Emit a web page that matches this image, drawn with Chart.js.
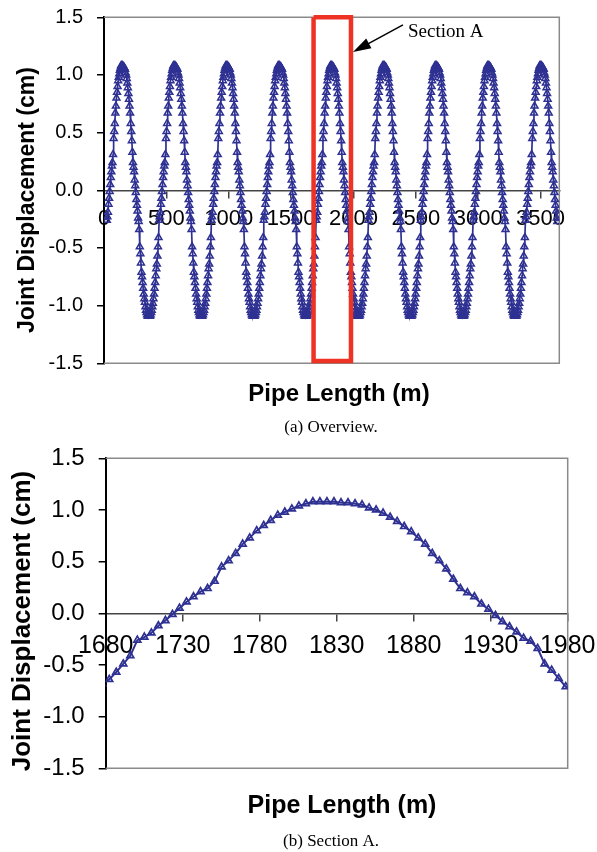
<!DOCTYPE html>
<html>
<head>
<meta charset="utf-8">
<script src="https://cdn.jsdelivr.net/npm/chart.js@4.4.1/dist/chart.umd.min.js"></script>
<style>
html,body{margin:0;padding:0;background:#fff;}
#wrap{position:relative;width:597px;height:852px;overflow:hidden;background:#fff;}
canvas{position:absolute;left:0;}
#overview{top:0;}
#section{top:440px;}
</style>
</head>
<body>
<div id="wrap">
  <canvas id="overview" width="597" height="440"></canvas>
  <canvas id="section" width="597" height="412"></canvas>
</div>
<script>
// ===== Data =====
const JOINT_START = 22.46;   // position of first joint (m)
const JOINT_LEN = 4.56;      // joint spacing (m)

// joint displacement (cm), one row per wave cycle
const jointDisp = [
  -0.26,-0.23,-0.19,-0.12,-0.07,-0.01,0.05,0.11,0.16,0.21,0.24,0.31,0.45,
  0.51,0.58,0.67,0.73,0.80,0.85,0.90,0.95,0.98,1.01,1.04,1.06,1.08,1.08,1.08,1.08,1.07,
  1.07,1.06,1.05,1.02,1.00,0.97,0.93,0.89,0.84,0.79,0.73,0.67,0.58,0.51,0.43,0.33,
  0.24,0.20,0.16,0.09,0.04,-0.02,-0.08,-0.13,-0.18,-0.24,-0.27,-0.34,-0.49,-0.55,-0.63,-0.71,
  -0.75,-0.80,-0.85,-0.90,-0.94,-0.97,-1.01,-1.04,-1.06,-1.08,-1.09,-1.09,-1.09,-1.09,-1.09,-1.08,-1.06,-1.04,-1.01,-0.98,-0.94,-0.90,-0.85,-0.80,-0.74,-0.68,
  // cycle 2
  -0.64,-0.57,-0.49,-0.41,-0.26,-0.23,-0.19,-0.12,-0.07,-0.01,0.05,0.11,0.16,0.21,0.24,0.31,0.45,
  0.51,0.58,0.67,0.73,0.80,0.85,0.90,0.95,0.98,1.01,1.04,1.06,1.08,1.08,1.08,1.08,1.07,
  1.07,1.06,1.05,1.02,1.00,0.97,0.93,0.89,0.84,0.79,0.73,0.67,0.58,0.51,0.43,0.33,
  0.24,0.20,0.16,0.09,0.04,-0.02,-0.08,-0.13,-0.18,-0.24,-0.27,-0.34,-0.49,-0.55,-0.63,-0.71,
  -0.75,-0.80,-0.85,-0.90,-0.94,-0.97,-1.01,-1.04,-1.06,-1.08,-1.09,-1.09,-1.09,-1.09,-1.09,-1.08,-1.06,-1.04,-1.01,-0.98,-0.94,-0.90,-0.85,-0.80,-0.74,-0.68,
  // cycle 3
  -0.64,-0.57,-0.49,-0.41,-0.26,-0.23,-0.19,-0.12,-0.07,-0.01,0.05,0.11,0.16,0.21,0.24,0.31,0.45,
  0.51,0.58,0.67,0.73,0.80,0.85,0.90,0.95,0.98,1.01,1.04,1.06,1.08,1.08,1.08,1.08,1.07,
  1.07,1.06,1.05,1.02,1.00,0.97,0.93,0.89,0.84,0.79,0.73,0.67,0.58,0.51,0.43,0.33,
  0.24,0.20,0.16,0.09,0.04,-0.02,-0.08,-0.13,-0.18,-0.24,-0.27,-0.34,-0.49,-0.55,-0.63,-0.71,
  -0.75,-0.80,-0.85,-0.90,-0.94,-0.97,-1.01,-1.04,-1.06,-1.08,-1.09,-1.09,-1.09,-1.09,-1.09,-1.08,-1.06,-1.04,-1.01,-0.98,-0.94,-0.90,-0.85,-0.80,-0.74,-0.68,
  // cycle 4
  -0.64,-0.57,-0.49,-0.41,-0.26,-0.23,-0.19,-0.12,-0.07,-0.01,0.05,0.11,0.16,0.21,0.24,0.31,0.45,
  0.51,0.58,0.67,0.73,0.80,0.85,0.90,0.95,0.98,1.01,1.04,1.06,1.08,1.08,1.08,1.08,1.07,
  1.07,1.06,1.05,1.02,1.00,0.97,0.93,0.89,0.84,0.79,0.73,0.67,0.58,0.51,0.43,0.33,
  0.24,0.20,0.16,0.09,0.04,-0.02,-0.08,-0.13,-0.18,-0.24,-0.27,-0.34,-0.49,-0.55,-0.63,-0.71,
  -0.75,-0.80,-0.85,-0.90,-0.94,-0.97,-1.01,-1.04,-1.06,-1.08,-1.09,-1.09,-1.09,-1.09,-1.09,-1.08,-1.06,-1.04,-1.01,-0.98,-0.94,-0.90,-0.85,-0.80,-0.74,-0.68,
  // cycle 5 (Section A: 1682 m .. 1979 m)
  -0.64,-0.57,-0.49,-0.41,-0.26,-0.23,-0.19,-0.12,-0.07,-0.01,0.05,0.11,0.16,0.21,0.24,0.31,0.45,
  0.51,0.58,0.67,0.73,0.80,0.85,0.90,0.95,0.98,1.01,1.04,1.06,1.08,1.08,1.08,1.08,1.07,
  1.07,1.06,1.05,1.02,1.00,0.97,0.93,0.89,0.84,0.79,0.73,0.67,0.58,0.51,0.43,0.33,
  0.24,0.20,0.16,0.09,0.04,-0.02,-0.08,-0.13,-0.18,-0.24,-0.27,-0.34,-0.49,-0.55,-0.63,-0.71,
  -0.75,-0.80,-0.85,-0.90,-0.94,-0.97,-1.01,-1.04,-1.06,-1.08,-1.09,-1.09,-1.09,-1.09,-1.09,-1.08,-1.06,-1.04,-1.01,-0.98,-0.94,-0.90,-0.85,-0.80,-0.74,-0.68,
  // cycle 6
  -0.64,-0.57,-0.49,-0.41,-0.26,-0.23,-0.19,-0.12,-0.07,-0.01,0.05,0.11,0.16,0.21,0.24,0.31,0.45,
  0.51,0.58,0.67,0.73,0.80,0.85,0.90,0.95,0.98,1.01,1.04,1.06,1.08,1.08,1.08,1.08,1.07,
  1.07,1.06,1.05,1.02,1.00,0.97,0.93,0.89,0.84,0.79,0.73,0.67,0.58,0.51,0.43,0.33,
  0.24,0.20,0.16,0.09,0.04,-0.02,-0.08,-0.13,-0.18,-0.24,-0.27,-0.34,-0.49,-0.55,-0.63,-0.71,
  -0.75,-0.80,-0.85,-0.90,-0.94,-0.97,-1.01,-1.04,-1.06,-1.08,-1.09,-1.09,-1.09,-1.09,-1.09,-1.08,-1.06,-1.04,-1.01,-0.98,-0.94,-0.90,-0.85,-0.80,-0.74,-0.68,
  // cycle 7
  -0.64,-0.57,-0.49,-0.41,-0.26,-0.23,-0.19,-0.12,-0.07,-0.01,0.05,0.11,0.16,0.21,0.24,0.31,0.45,
  0.51,0.58,0.67,0.73,0.80,0.85,0.90,0.95,0.98,1.01,1.04,1.06,1.08,1.08,1.08,1.08,1.07,
  1.07,1.06,1.05,1.02,1.00,0.97,0.93,0.89,0.84,0.79,0.73,0.67,0.58,0.51,0.43,0.33,
  0.24,0.20,0.16,0.09,0.04,-0.02,-0.08,-0.13,-0.18,-0.24,-0.27,-0.34,-0.49,-0.55,-0.63,-0.71,
  -0.75,-0.80,-0.85,-0.90,-0.94,-0.97,-1.01,-1.04,-1.06,-1.08,-1.09,-1.09,-1.09,-1.09,-1.09,-1.08,-1.06,-1.04,-1.01,-0.98,-0.94,-0.90,-0.85,-0.80,-0.74,-0.68,
  // cycle 8
  -0.64,-0.57,-0.49,-0.41,-0.26,-0.23,-0.19,-0.12,-0.07,-0.01,0.05,0.11,0.16,0.21,0.24,0.31,0.45,
  0.51,0.58,0.67,0.73,0.80,0.85,0.90,0.95,0.98,1.01,1.04,1.06,1.08,1.08,1.08,1.08,1.07,
  1.07,1.06,1.05,1.02,1.00,0.97,0.93,0.89,0.84,0.79,0.73,0.67,0.58,0.51,0.43,0.33,
  0.24,0.20,0.16,0.09,0.04,-0.02,-0.08,-0.13,-0.18,-0.24,-0.27,-0.34,-0.49,-0.55,-0.63,-0.71,
  -0.75,-0.80,-0.85,-0.90,-0.94,-0.97,-1.01,-1.04,-1.06,-1.08,-1.09,-1.09,-1.09,-1.09,-1.09,-1.08,-1.06,-1.04,-1.01,-0.98,-0.94,-0.90,-0.85,-0.80,-0.74,-0.68,
  // cycle 9 (to end of pipe)
  -0.64,-0.57,-0.49,-0.41,-0.26,-0.23,-0.19,-0.12,-0.07,-0.01,0.05,0.11,0.16,0.21,0.24,0.31,0.45,
  0.51,0.58,0.67,0.73,0.80,0.85,0.90,0.95,0.98,1.01,1.04,1.06,1.08,1.08,1.08,1.08,1.07,
  1.07,1.06,1.05,1.02,1.00,0.97,0.93,0.89,0.84,0.79,0.73,0.67,0.58,0.51,0.43,0.33,
  0.24,0.20,0.16,0.09,0.04,-0.02,-0.08,-0.13,-0.18,-0.24,-0.27
];

const overviewTicks = [0,500,1000,1500,2000,2500,3000,3500];
const sectionTicks = [1680,1730,1780,1830,1880,1930,1980];
const dispTicks = [-1.5,-1.0,-0.5,0.0,0.5,1.0,1.5];
const sectionA = [1680,1980];        // pipe length range of Section A (m)
const sectionABoxY = [-1.48,1.5];    // vertical extent of the red box (cm)

// ===== Styles =====
const SANS = '"Liberation Sans", Arial, sans-serif';
const SERIF = '"Liberation Serif", "Times New Roman", serif';
const BLUE = '#2e3192';
const RED = '#ee3224';
Chart.defaults.font.family = SANS;
Chart.defaults.color = '#000';

// ===== Helpers =====
const points = jointDisp.map((y,i)=>({x: +(JOINT_START + i*JOINT_LEN).toFixed(2), y}));
const boxPoints = [
  {x:sectionA[0],y:sectionABoxY[1]},{x:sectionA[0],y:sectionABoxY[0]},
  {x:sectionA[1],y:sectionABoxY[0]},{x:sectionA[1],y:sectionABoxY[1]},
  {x:sectionA[0],y:sectionABoxY[1]}
];

// fixed axis sizes so the plot area lands where the original has it
function yScale(o){
  return {
    type:'linear', min:-1.5, max:1.5,
    afterBuildTicks: s=>{ s.ticks = dispTicks.map(v=>({value:v})); },
    afterFit: s=>{ s.width = o.left; s.paddingTop = 0; s.paddingBottom = 0; },
    border:{display:true,color:'#000',width:2},
    grid:{drawOnChartArea:false,drawTicks:true,tickLength:7,color:'#000',lineWidth:1.5},
    ticks:{color:'#000',font:{size:o.yFont},padding:o.yPad,callback:v=>v.toFixed(1)}
  };
}
function xScale(o){
  return {
    type:'linear', min:o.min, max:o.max, position:{y:0},
    afterBuildTicks: s=>{ s.ticks = o.ticks.map(v=>({value:v})); },
    afterFit: s=>{ s.paddingLeft = 0; s.paddingRight = 0; s.paddingTop = 0; s.paddingBottom = 0; },
    border:{display:true,color:'#444',width:1.5},
    grid:{drawOnChartArea:false,drawTicks:true,tickLength:7,color:'#444',lineWidth:1.5},
    ticks:{color:'#000',font:{size:o.xFont},padding:o.xPad,maxRotation:0,autoSkip:false,callback:v=>String(v)}
  };
}

// gray frame on top / right / bottom of plot area
const framePlugin = {
  id:'frame',
  beforeDatasetsDraw(chart){
    const {ctx, chartArea:a} = chart;
    ctx.save();
    ctx.strokeStyle = '#8a8a8a'; ctx.lineWidth = 1.5;
    ctx.beginPath();
    ctx.moveTo(a.left,a.top); ctx.lineTo(a.right,a.top);
    ctx.lineTo(a.right,a.bottom); ctx.lineTo(a.left,a.bottom);
    ctx.stroke();
    ctx.restore();
  }
};

function textPlugin(o){
  return {
    id:'texts',
    afterDraw(chart){
      const ctx = chart.ctx;
      ctx.save();
      ctx.fillStyle = '#000';
      ctx.textAlign = 'center'; ctx.textBaseline = 'alphabetic';
      ctx.font = `bold ${o.xt.size}px ${SANS}`;
      ctx.fillText('Pipe Length (m)', o.xt.x, o.xt.y);
      ctx.save();
      ctx.translate(o.yt.x, o.yt.y); ctx.rotate(-Math.PI/2);
      ctx.font = `bold ${o.yt.size}px ${SANS}`;
      ctx.fillText('Joint Displacement (cm)', 0, 0);
      ctx.restore();
      ctx.font = `${o.cap.size}px ${SERIF}`;
      ctx.fillText(o.cap.text, o.cap.x, o.cap.y);
      ctx.restore();
    }
  };
}

// "Section A" arrow label
const sectionLabelPlugin = {
  id:'sectionLabel',
  afterDatasetsDraw(chart){
    const {ctx, scales:{x,y}} = chart;
    const tx = x.getPixelForValue(sectionA[1]) + 2, ty = y.getPixelForValue(1.2);
    const sx = tx + 50, sy = ty - 27;
    const len = Math.hypot(tx-sx, ty-sy), ux = (tx-sx)/len, uy = (ty-sy)/len;
    const hl = 18, hw = 5.5;
    ctx.save();
    ctx.strokeStyle = '#000'; ctx.fillStyle = '#000'; ctx.lineWidth = 1.5;
    ctx.beginPath(); ctx.moveTo(sx,sy); ctx.lineTo(tx-ux*hl*0.8, ty-uy*hl*0.8); ctx.stroke();
    ctx.beginPath();
    ctx.moveTo(tx,ty);
    ctx.lineTo(tx-ux*hl-uy*hw, ty-uy*hl+ux*hw);
    ctx.lineTo(tx-ux*hl+uy*hw, ty-uy*hl-ux*hw);
    ctx.closePath(); ctx.fill();
    ctx.font = `19px ${SERIF}`; ctx.textAlign = 'left'; ctx.textBaseline = 'alphabetic';
    ctx.fillText('Section A', tx + 55, ty - 15);
    ctx.restore();
  }
};

function dataSet(lw, pw){
  return {
    data: points, showLine:true, borderColor:BLUE, borderWidth:lw,
    pointStyle:'triangle', pointRadius:4, pointHoverRadius:4,
    pointBorderColor:BLUE, pointBackgroundColor:'rgba(255,255,255,0)', pointBorderWidth:pw,
    order:1
  };
}

const baseOptions = {
  animation:false, responsive:false, events:[],
  plugins:{legend:{display:false},tooltip:{enabled:false}}
};

// ===== (a) Overview =====
new Chart(document.getElementById('overview').getContext('2d'),{
  type:'scatter',
  data:{datasets:[
    {data:boxPoints, showLine:true, borderColor:RED, borderWidth:4.5, pointRadius:0, borderJoinStyle:'miter', clip:6, order:0},
    dataSet(1.7, 1.5)
  ]},
  options:{...baseOptions,
    layout:{padding:{left:0,top:17.3,right:37.7,bottom:76.7}},
    scales:{
      x: xScale({min:0,max:3650,ticks:overviewTicks,xFont:22,xPad:8}),
      y: yScale({left:104,yFont:20,yPad:14})
    }
  },
  plugins:[framePlugin, sectionLabelPlugin, textPlugin({
    xt:{x:339,y:401,size:24},
    yt:{x:34,y:200,size:23},
    cap:{text:'(a) Overview.',x:331,y:432,size:17}
  })]
});

// ===== (b) Section A =====
new Chart(document.getElementById('section').getContext('2d'),{
  type:'scatter',
  data:{datasets:[dataSet(2, 1.7)]},
  options:{...baseOptions,
    layout:{padding:{left:0,top:18.3,right:29.3,bottom:83.7}},
    scales:{
      x: xScale({min:sectionA[0],max:sectionA[1],ticks:sectionTicks,xFont:25,xPad:11}),
      y: yScale({left:105.7,yFont:24,yPad:14})
    }
  },
  plugins:[framePlugin, textPlugin({
    xt:{x:342,y:373,size:25},
    yt:{x:30,y:181,size:26},
    cap:{text:'(b) Section A.',x:331,y:406,size:17}
  })]
});
</script>
</body>
</html>
